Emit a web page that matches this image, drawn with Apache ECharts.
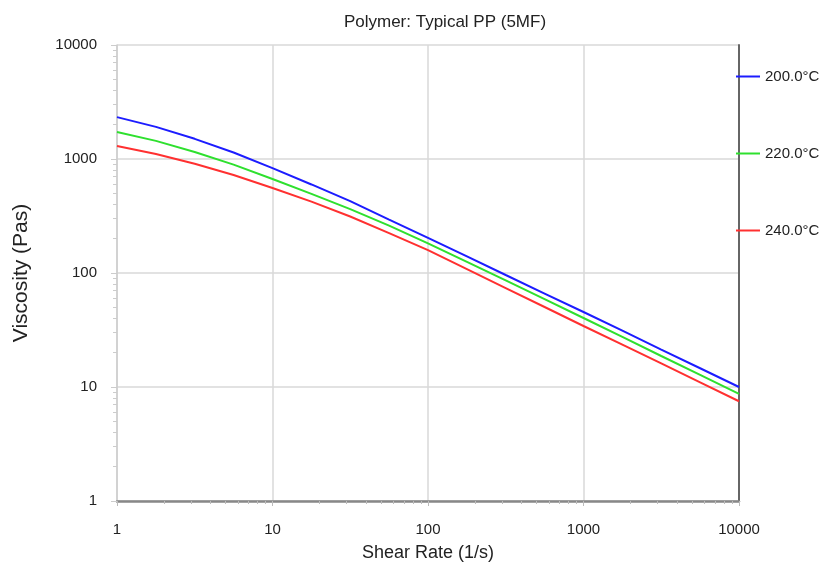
<!DOCTYPE html>
<html>
<head>
    <meta charset="utf-8">
    <title>Polymer: Typical PP (5MF)</title>
    <script src="https://cdn.jsdelivr.net/npm/echarts@6/dist/echarts.min.js"></script>
    <style>
        html, body { margin: 0; padding: 0; background: #fff; }
    </style>
</head>
<body>
    <div id="main" style="width: 830px;height: 571px;"></div>
    <script type="text/javascript">
        // shear rate (1/s), quarter-decade steps, and viscosity (Pas)
        var shearRates = [1, 1.78, 3.16, 5.62, 10, 17.8, 31.6, 56.2, 100, 178, 316, 562, 1000, 1778, 3162, 5623, 10000];
        var visc200 = [2330, 1914, 1503, 1140, 832, 598, 427, 294, 203, 140, 96, 66, 45.5, 31.2, 21.3, 14.6, 10];
        var visc220 = [1725, 1442, 1151, 893, 668, 495, 363, 260, 182, 125, 86, 58.9, 40.3, 27.5, 18.7, 12.8, 8.7];
        var visc240 = [1300, 1107, 910, 723, 557, 423, 313, 224, 158.5, 108, 73.8, 50.3, 34.3, 23.5, 16.1, 11.0, 7.5];
        var seriesNames = ['200.0°C', '220.0°C', '240.0°C'];
        var seriesColors = ['#1c1cff', '#2ee02e', '#ff3030'];

        // minor tick positions for the log axes (2..9 in each decade)
        var minorTicks = [2, 3, 4, 5, 6, 7, 8, 9, 20, 30, 40, 50, 60, 70, 80, 90,
            200, 300, 400, 500, 600, 700, 800, 900, 2000, 3000, 4000, 5000, 6000, 7000, 8000, 9000];
        var minorLog = minorTicks.map(function (v) { return Math.log10(v); });

        var font = "'Liberation Sans', Arial, sans-serif";
        var myChart = echarts.init(document.getElementById('main'));

        function pairs(ys) {
            return shearRates.map(function (x, i) { return [x, ys[i]]; });
        }
        function plain(v) { return String(Math.round(v)); }
        var allVisc = [visc200, visc220, visc240];

        var legendTops = [69, 146, 223];
        var legends = seriesNames.map(function (name, i) {
            return {
                data: [name],
                left: 736,
                top: legendTops[i],
                padding: 0,
                icon: 'rect',
                itemWidth: 24,
                itemHeight: 2,
                selectedMode: false,
                textStyle: { fontSize: 15, color: '#222', fontFamily: font }
            };
        });

        var option = {
            animation: false,
            title: {
                text: 'Polymer: Typical PP (5MF)',
                left: 440,
                top: 9,
                textAlign: 'center',
                textStyle: { fontSize: 17, fontWeight: 'normal', color: '#222', fontFamily: font }
            },
            legend: legends,
            grid: { left: 117, right: 91, top: 45, bottom: 70 },
            xAxis: [{
                type: 'log',
                logBase: 10,
                min: 1,
                max: 10000,
                name: 'Shear Rate (1/s)',
                nameLocation: 'middle',
                nameGap: 43,
                nameTextStyle: { fontSize: 18, color: '#222', fontFamily: font },
                axisLine: { lineStyle: { color: '#888', width: 2.5 } },
                axisTick: { length: 5, lineStyle: { color: '#bbb' } },
                axisLabel: { margin: 21, fontSize: 15, color: '#222', fontFamily: font, formatter: plain },
                splitLine: { show: true, lineStyle: { color: '#d9d9d9', width: 1.5 } }
            }, {
                type: 'value',
                min: 0,
                max: 4,
                position: 'bottom',
                axisLine: { show: false },
                axisLabel: { show: false },
                splitLine: { show: false },
                axisTick: { show: true, customValues: minorLog, length: 3, lineStyle: { color: '#bbb' } }
            }],
            yAxis: [{
                type: 'log',
                logBase: 10,
                min: 1,
                max: 10000,
                name: 'Viscosity (Pas)',
                nameLocation: 'middle',
                nameGap: 85,
                nameTextStyle: { fontSize: 21, color: '#222', fontFamily: font },
                axisLine: { show: true, lineStyle: { color: '#ccc', width: 1.5 } },
                axisTick: { show: true, length: 6, lineStyle: { color: '#ccc' } },
                axisLabel: { margin: 20, fontSize: 15, color: '#222', fontFamily: font, formatter: plain },
                splitLine: { show: true, lineStyle: { color: '#d9d9d9', width: 1.5 } }
            }, {
                type: 'value',
                min: 0,
                max: 4,
                position: 'left',
                axisLine: { show: false },
                axisLabel: { show: false },
                splitLine: { show: false },
                axisTick: { show: true, customValues: minorLog, length: 4, lineStyle: { color: '#ccc' } }
            }, {
                type: 'log',
                logBase: 10,
                min: 1,
                max: 10000,
                position: 'right',
                axisLine: { show: true, lineStyle: { color: '#666', width: 2 } },
                axisTick: { show: false },
                axisLabel: { show: false },
                splitLine: { show: false }
            }],
            series: seriesNames.map(function (name, i) {
                return {
                    name: name,
                    type: 'line',
                    xAxisIndex: 0,
                    yAxisIndex: 0,
                    showSymbol: false,
                    color: seriesColors[i],
                    lineStyle: { width: 2, color: seriesColors[i] },
                    data: pairs(allVisc[i])
                };
            })
        };

        myChart.setOption(option);
    </script>
</body>
</html>
